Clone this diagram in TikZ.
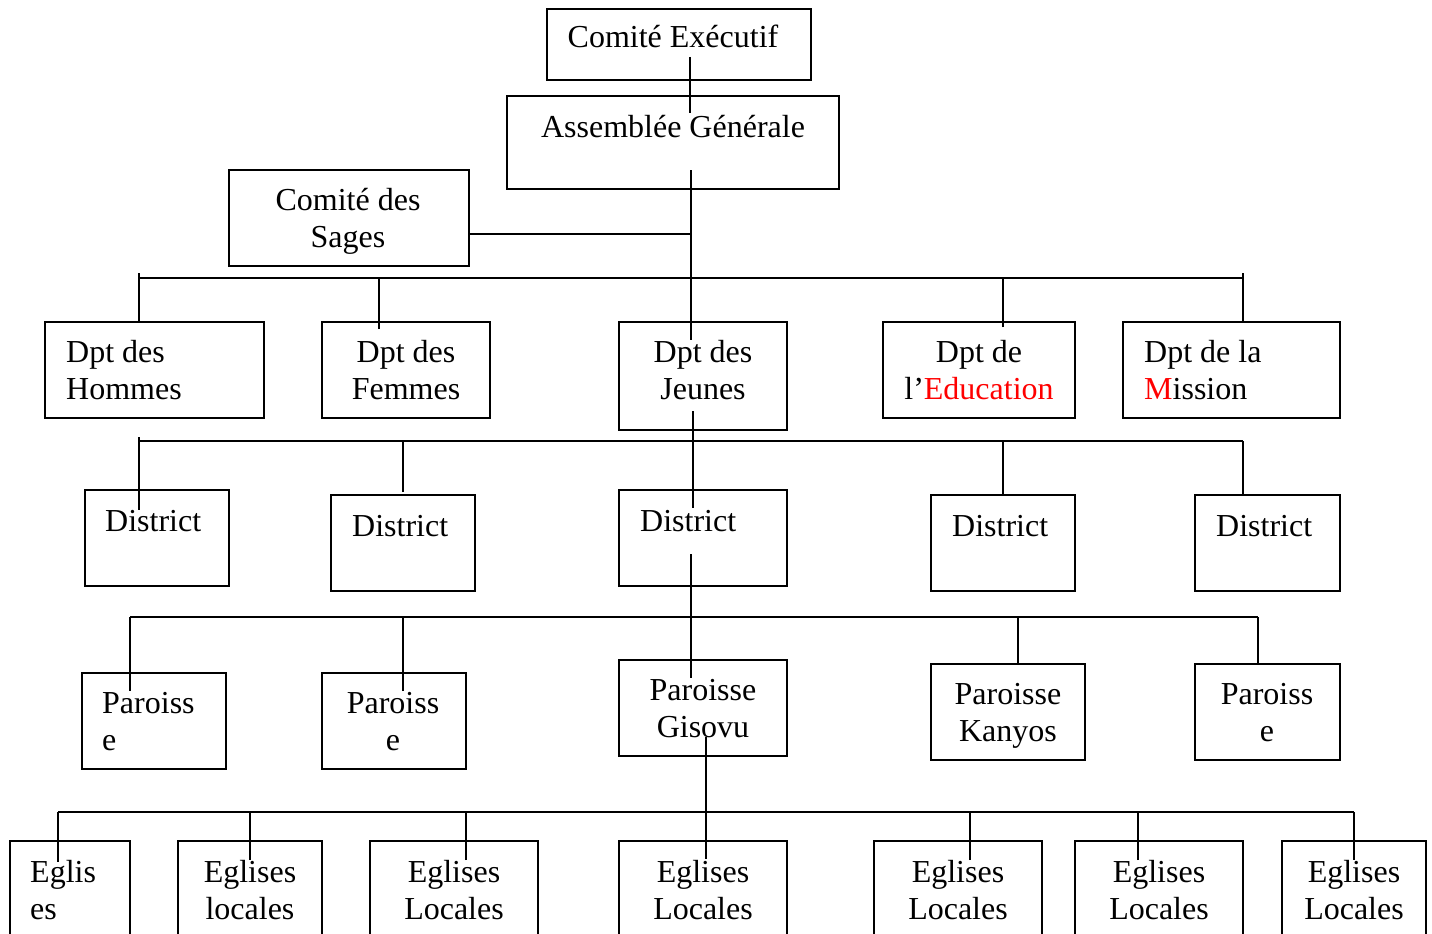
\documentclass[tikz,border=0pt]{standalone}
\usepackage{fontspec}
\setmainfont{Liberation Serif}
\usetikzlibrary{calc}
\definecolor{wred}{RGB}{255,0,0}
\begin{document}
\begin{tikzpicture}[x=1pt,y=-1pt,
  box/.style={draw, line width=1.6pt, inner sep=0pt, outer sep=0pt},
  txt/.style={inner sep=0pt, font=\fontsize{32}{37}\selectfont, align=center, anchor=base},
  txl/.style={inner sep=0pt, font=\fontsize{32}{37}\selectfont, align=left, anchor=base west},
  conn/.style={line width=1.6pt}]
\useasboundingbox (0,0) rectangle (1432,934);
\clip (0,0) rectangle (1432,934);
\newcommand\bx[5]{\node[box, minimum width={#4-#2}, minimum height={#5-#3}] (#1) at ({(#2+#4)/2},{(#3+#5)/2}) {};}
% boxes
\bx{ce}{547}{9}{811}{80}
\bx{ag}{507}{96}{839}{189}
\bx{sages}{229}{170}{469}{266}
\bx{hom}{45}{322}{264}{418}
\bx{fem}{322}{322}{490}{418}
\bx{jeu}{619}{322}{787}{430}
\bx{edu}{883}{322}{1075}{418}
\bx{mis}{1123}{322}{1340}{418}
\bx{d1}{85}{490}{229}{586}
\bx{d2}{331}{495}{475}{591}
\bx{d3}{619}{490}{787}{586}
\bx{d4}{931}{495}{1075}{591}
\bx{d5}{1195}{495}{1340}{591}
\bx{p1}{82}{673}{226}{769}
\bx{p2}{322}{673}{466}{769}
\bx{p3}{619}{660}{787}{756}
\bx{p4}{931}{664}{1085}{760}
\bx{p5}{1195}{664}{1340}{760}
\bx{e1}{10}{841}{130}{960}
\bx{e2}{178}{841}{322}{960}
\bx{e3}{370}{841}{538}{960}
\bx{e4}{619}{841}{787}{960}
\bx{e5}{874}{841}{1042}{960}
\bx{e6}{1075}{841}{1243}{960}
\bx{e7}{1282}{841}{1426}{960}
% texts (two-line nodes: position = baseline of second line)
\node[txt] (ce-t) at (673,48) {Comité Exécutif};
\node[txt] (ag-t) at (673,137) {Assemblée Générale};
\node[txt] (sages-t) at (348,247) {Comité des\\Sages};
\node[txl] (hom-t) at (66,399) {Dpt des\\Hommes};
\node[txt] (fem-t) at (406,399) {Dpt des\\Femmes};
\node[txt] (jeu-t) at (703,399) {Dpt des\\Jeunes};
\node[txt] (edu-t) at (979,399) {Dpt de\\l’\textcolor{wred}{Education}};
\node[txl] (mis-t) at (1144,399) {Dpt de la\\\textcolor{wred}{M}ission};
\node[txl] (d1-t) at (105,531) {District};
\node[txl] (d2-t) at (352,536) {District};
\node[txl] (d3-t) at (640,531) {District};
\node[txl] (d4-t) at (952,536) {District};
\node[txl] (d5-t) at (1216,536) {District};
\node[txl] (p1-t) at (102,750) {Paroiss\\e};
\node[txt] (p2-t) at (393,750) {Paroiss\\e};
\node[txt] (p3-t) at (703,737) {Paroisse\\Gisovu};
\node[txt] (p4-t) at (1008,741) {Paroisse\\Kanyos};
\node[txt] (p5-t) at (1267,741) {Paroiss\\e};
\node[txl] (e1-t) at (30,919) {Eglis\\es};
\node[txt] (e2-t) at (250,919) {Eglises\\locales};
\node[txt] (e3-t) at (454,919) {Eglises\\Locales};
\node[txt] (e4-t) at (703,919) {Eglises\\Locales};
\node[txt] (e5-t) at (958,919) {Eglises\\Locales};
\node[txt] (e6-t) at (1159,919) {Eglises\\Locales};
\node[txt] (e7-t) at (1354,919) {Eglises\\Locales};
% bus coordinates
\coordinate (b1L) at (139,278); \coordinate (b1R) at (1243,278);
\coordinate (b2L) at (139,441); \coordinate (b2R) at (1243,441);
\coordinate (b3L) at (130,617); \coordinate (b3R) at (1258,617);
\coordinate (b4L) at (58,812);  \coordinate (b4R) at (1354,812);
\coordinate (trk) at (691,234);
% top connectors
\draw[conn] ($(ce.north west)+(143,48)$) -- ($(ag.north west)+(183,17)$);
\draw[conn] ($(ag.north west)+(184,74)$) -- ($(jeu.north west)+(72,18)$);
\draw[conn] (sages.east |- trk) -- (trk);
% bus 1
\draw[conn] (b1L) -- (b1R);
\draw[conn] ([yshift=5pt]b1L) -- (b1L |- hom.north);
\draw[conn] ([yshift=5pt]b1R) -- (b1R |- mis.north);
\draw[conn] ($(fem.north west)+(57,7)$) coordinate (f1) -- (f1 |- b1L);
\draw[conn] ($(edu.north west)+(120,5)$) coordinate (f2) -- (f2 |- b1L);
% bus 2
\draw[conn] ($(jeu.north west)+(74,89)$) -- ($(d3.north west)+(74,18)$);
\draw[conn] (b2L) -- (b2R);
\draw[conn] ([yshift=4pt]b2L) -- ($(d1.north west)+(54,20)$);
\draw[conn] ($(d2.north west)+(72,-3)$) coordinate (g1) -- (g1 |- b2L);
\draw[conn] ($(d4.north west)+(72,-1)$) coordinate (g2) -- (g2 |- b2L);
\draw[conn] (b2R) -- (b2R |- d5.north);
% bus 3
\draw[conn] ($(d3.north west)+(72,64)$) -- ($(p3.north west)+(72,18)$);
\draw[conn] (b3L) -- (b3R);
\draw[conn] (b3L) -- ($(p1.north west)+(48,18)$);
\draw[conn] ($(p2.north west)+(81,18)$) coordinate (h1) -- (h1 |- b3L);
\draw[conn] ($(p4.north west)+(87,0)$) coordinate (h2) -- (h2 |- b3L);
\draw[conn] (b3R) -- (b3R |- p5.north);
% bus 4
\draw[conn] ($(p3.north west)+(87,77)$) -- ($(e4.north west)+(87,18)$);
\draw[conn] (b4L) -- (b4R);
\draw[conn] (b4L) -- ($(e1.north west)+(48,21)$);
\draw[conn] ($(e2.north west)+(72,19)$) coordinate (k1) -- (k1 |- b4L);
\draw[conn] ($(e3.north west)+(96,19)$) coordinate (k2) -- (k2 |- b4L);
\draw[conn] ($(e5.north west)+(96,19)$) coordinate (k3) -- (k3 |- b4L);
\draw[conn] ($(e6.north west)+(63,19)$) coordinate (k4) -- (k4 |- b4L);
\draw[conn] (b4R) -- ($(e7.north west)+(72,19)$);
\end{tikzpicture}
\end{document}
